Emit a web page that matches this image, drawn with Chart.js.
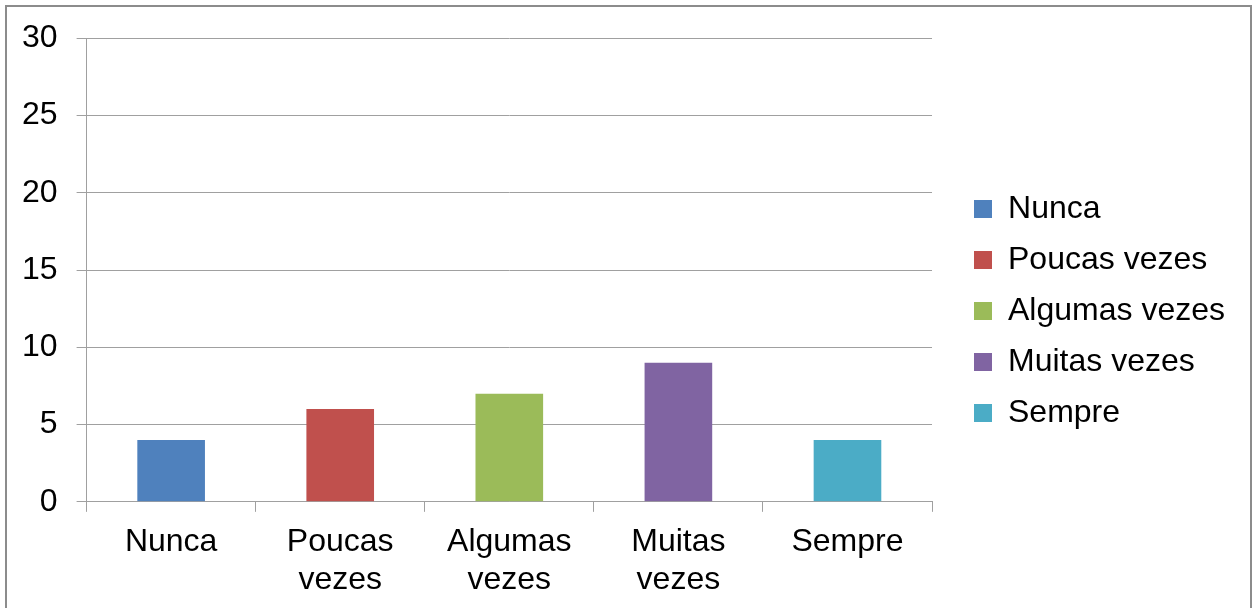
<!DOCTYPE html>
<html>
<head>
<meta charset="utf-8">
<script src="https://cdn.jsdelivr.net/npm/chart.js@4.4.1/dist/chart.umd.min.js"></script>
<style>
  body { margin: 0; background: #fff; overflow: hidden; }
  #frame {
    position: absolute;
    left: 5px;
    top: 5px;
    width: 1243px;
    height: 640px;
    border: 2px solid #8c8c8c;
  }
  #myChart {
    position: absolute;
    left: 0;
    top: -7px;
  }
</style>
</head>
<body>
<div id="frame">
  <canvas id="myChart" width="1243" height="608"></canvas>
</div>
<script>
// chart data
const categories = ['Nunca', 'Poucas vezes', 'Algumas vezes', 'Muitas vezes', 'Sempre'];
const values = [4, 6, 7, 9, 4];
const barColors = ['#4F81BD', '#C0504D', '#9BBB59', '#8064A2', '#4BACC6'];
const yTicks = [0, 5, 10, 15, 20, 25, 30];

const gridColor = '#a0a0a0';
const fontFamily = '"Liberation Sans", Arial, sans-serif';

// axis labels wrap onto two lines
const axisLabels = categories.map(c => c.split(' '));

// push the legend a bit further away from the plot
const legendGap = {
    id: 'legendGap',
    afterLayout(chart) {
        chart.legend.left += 23;
        chart.legend.right += 23;
        chart.legend.top += 5;
        chart.legend.bottom += 5;
    }
};

const ctx = document.getElementById('myChart').getContext('2d');
new Chart(ctx, {
    type: 'bar',
    data: {
        labels: axisLabels,
        datasets: [{
            label: 'Respostas',
            data: values,
            backgroundColor: barColors,
            borderWidth: 0,
            barPercentage: 0.4,
            categoryPercentage: 1.0
        }]
    },
    options: {
        responsive: false,
        animation: false,
        layout: {
            padding: { left: -4, top: 2, bottom: -2, right: 38 }
        },
        plugins: {
            tooltip: { enabled: false },
            legend: {
                position: 'right',
                labels: {
                    boxWidth: 18,
                    boxHeight: 18,
                    padding: 19,
                    color: '#000',
                    font: { family: fontFamily, size: 32 },
                    generateLabels: () => categories.map((c, i) => ({
                        text: c,
                        fillStyle: barColors[i],
                        strokeStyle: barColors[i],
                        lineWidth: 0,
                        hidden: false,
                        index: i,
                        fontColor: '#000'
                    }))
                }
            }
        },
        scales: {
            x: {
                offset: true,
                grid: {
                    offset: true,
                    drawOnChartArea: false,
                    drawTicks: true,
                    tickLength: 10,
                    color: gridColor
                },
                border: { display: true, color: gridColor },
                ticks: {
                    color: '#000',
                    padding: 11,
                    maxRotation: 0,
                    font: { family: fontFamily, size: 32, lineHeight: 1.19 }
                }
            },
            y: {
                min: 0,
                max: 30,
                afterBuildTicks: axis => {
                    axis.ticks = yTicks.map(v => ({ value: v }));
                },
                grid: {
                    color: gridColor,
                    drawTicks: true,
                    tickLength: 10
                },
                border: { display: true, color: gridColor },
                ticks: {
                    color: '#000',
                    padding: 19,
                    font: { family: fontFamily, size: 32 }
                }
            }
        }
    },
    plugins: [legendGap]
});
</script>
</body>
</html>
